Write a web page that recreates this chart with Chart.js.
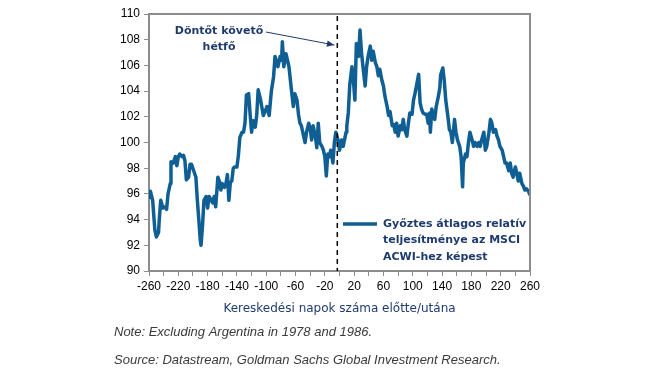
<!doctype html>
<html>
<head>
<meta charset="utf-8" />
<title>Győztes átlagos relatív teljesítménye</title>
<script src="https://cdn.jsdelivr.net/npm/chart.js@4.4.1/dist/chart.umd.min.js"></script>
<style>
	html, body { margin: 0; padding: 0; background: #fff; }
	#wrap { position: relative; width: 645px; height: 371px; }
</style>
</head>
<body>
<div id="wrap"><canvas id="chart" width="645" height="371"></canvas></div>
<script>
// kereskedési napok a döntő előtt/után
const days = [
	-260, -258, -255, -252, -250, -247, -246, -244, -241, -238, -236, -234, -231, -230, -227, -224,
	-222, -220, -218, -215, -213, -211, -209, -206, -204, -202, -199, -196, -194, -192, -190, -189,
	-187, -185, -182, -180, -178, -175, -173, -171, -169, -166, -164, -162, -160, -157, -155, -153,
	-151, -149, -147, -145, -143, -140, -138, -136, -133, -131, -129, -127, -124, -122, -120, -118,
	-115, -113, -111, -108, -104, -101, -99, -96, -93, -90, -88, -86, -84, -81, -79, -78,
	-76, -73, -71, -69, -66, -63, -61, -58, -56, -54, -52, -49, -47, -45, -42, -40,
	-38, -36, -33, -31, -29, -27, -24, -22, -20, -18, -16, -14, -12, -9, -7, -5,
	-2, 0, 3, 5, 9, 10, 12, 14, 17, 19, 21, 23, 26, 28, 30, 33,
	35, 37, 39, 42, 44, 46, 49, 51, 53, 55, 58, 60, 62, 65, 67, 69,
	72, 74, 76, 78, 80, 83, 85, 87, 89, 92, 94, 96, 99, 101, 103, 105,
	108, 110, 112, 114, 117, 119, 121, 123, 124, 126, 128, 130, 132, 135, 137, 138,
	141, 143, 145, 148, 150, 152, 154, 157, 159, 161, 164, 166, 168, 169, 172, 174,
	176, 178, 181, 183, 185, 188, 190, 192, 194, 197, 199, 201, 204, 206, 208, 210,
	213, 215, 217, 219, 222, 224, 226, 228, 231, 233, 235, 237, 240, 242, 244, 246,
	249, 251, 253, 255, 258, 260
];

// relatív teljesítmény az MSCI ACWI-hez képest
const relPerf = [
	95.6, 96.2, 95.5, 93.2, 92.65, 93.0, 94.0, 95.5, 94.9, 95.0, 94.8, 96.0, 96.8, 98.5, 98.4, 98.9,
	98.2, 98.9, 99.1, 98.9, 99.0, 98.6, 97.1, 97.3, 98.3, 98.3, 97.8, 97.3, 95.5, 94.0, 92.4, 92.0,
	93.5, 95.5, 95.8, 94.9, 95.8, 95.5, 95.3, 95.8, 95.0, 97.3, 97.0, 96.3, 96.8, 96.5, 96.8, 97.5,
	95.5, 96.9, 97.0, 98.0, 98.1, 98.1, 99.0, 100.4, 100.8, 100.8, 101.5, 103.7, 103.8, 102.2, 100.8, 101.7,
	101.2, 102.1, 104.1, 103.4, 102.1, 102.5, 102.8, 102.1, 104.0, 105.1, 106.7, 106.3, 105.9, 106.7, 106.4, 107.85,
	105.9, 106.9, 106.4, 105.9, 104.3, 102.8, 103.8, 103.3, 102.2, 101.5, 101.3, 100.5, 100.0, 100.8, 101.5, 101.1,
	100.2, 101.3, 100.5, 99.6, 101.5, 100.0, 99.7, 99.4, 98.9, 97.4, 99.1, 98.9, 99.4, 98.4, 100.0, 100.8,
	100.2, 99.4, 100.2, 99.7, 100.8, 101.3, 102.3, 104.5, 105.9, 104.8, 103.3, 107.7, 106.7, 108.75, 107.0, 105.4,
	104.4, 105.9, 106.7, 107.5, 106.4, 107.1, 106.2, 105.9, 105.2, 105.7, 104.8, 104.4, 103.6, 102.8, 102.1, 102.4,
	101.3, 101.4, 100.8, 101.5, 100.5, 101.3, 101.0, 101.8, 101.0, 100.5, 101.5, 102.3, 102.2, 103.3, 103.8, 104.4,
	105.3, 103.1, 102.6, 102.3, 102.2, 102.2, 101.5, 102.3, 100.8, 102.6, 102.1, 101.8, 102.8, 103.6, 104.3, 105.25,
	105.8, 104.8, 103.3, 102.0, 101.0, 100.8, 100.0, 101.8, 100.8, 100.2, 99.7, 98.9, 96.55, 98.4, 99.1, 98.9,
	100.0, 100.8, 100.2, 99.7, 100.0, 99.7, 100.0, 99.7, 100.2, 100.8, 99.4, 99.7, 100.8, 101.8, 101.5, 100.8,
	101.0, 100.5, 100.2, 99.7, 99.4, 98.9, 98.4, 98.4, 97.8, 98.4, 97.6, 97.3, 98.1, 97.6, 97.0, 97.6,
	96.8, 96.6, 96.3, 96.4, 96.2, 95.9
];

const eventDay = -3;
const seriesLabel = ["Győztes átlagos relatív", "teljesítménye az MSCI", "ACWI-hez képest"];
const calloutText = ["Döntőt követő", "hétfő"];
const xTitle = "Kereskedési napok száma előtte/utána";
const noteText = "Note: Excluding Argentina in 1978 and 1986.";
const sourceText = "Source: Datastream, Goldman Sachs Global Investment Research.";

const lineColor = "#0f5f95";
const navy = "#1f3b6e";
const frameGray = "#8c8c8c";

const points = days.map((d, i) => ({ x: d, y: relPerf[i] }));

const extras = {
	id: "extras",
	afterDatasetsDraw(chart) {
		const { ctx, chartArea: a, scales } = chart;
		ctx.save();

		// dashed event line
		const ex = scales.x.getPixelForValue(eventDay);
		ctx.strokeStyle = "#000";
		ctx.lineWidth = 1.5;
		ctx.setLineDash([5, 4]);
		ctx.beginPath();
		ctx.moveTo(ex, a.top + 2);
		ctx.lineTo(ex, a.bottom);
		ctx.stroke();
		ctx.setLineDash([]);

		// top / right frame
		ctx.strokeStyle = frameGray;
		ctx.lineWidth = 2;
		ctx.beginPath();
		ctx.moveTo(a.left, a.top);
		ctx.lineTo(a.right, a.top);
		ctx.lineTo(a.right, a.bottom);
		ctx.stroke();

		// callout
		ctx.fillStyle = navy;
		ctx.font = "bold 11px 'DejaVu Sans'";
		ctx.textAlign = "center";
		ctx.textBaseline = "middle";
		ctx.fillText(calloutText[0], 219, 31);
		ctx.fillText(calloutText[1], 219, 47);

		// arrow
		const ax0 = 266, ay0 = 32, ax1 = ex - 3, ay1 = 45;
		ctx.strokeStyle = navy;
		ctx.lineWidth = 1;
		ctx.beginPath();
		ctx.moveTo(ax0, ay0);
		ctx.lineTo(ax1, ay1);
		ctx.stroke();
		const ang = Math.atan2(ay1 - ay0, ax1 - ax0);
		ctx.beginPath();
		ctx.moveTo(ax1, ay1);
		ctx.lineTo(ax1 - 8 * Math.cos(ang - 0.4), ay1 - 8 * Math.sin(ang - 0.4));
		ctx.lineTo(ax1 - 8 * Math.cos(ang + 0.4), ay1 - 8 * Math.sin(ang + 0.4));
		ctx.closePath();
		ctx.fillStyle = navy;
		ctx.fill();

		// legend
		ctx.strokeStyle = lineColor;
		ctx.lineWidth = 3.5;
		ctx.beginPath();
		ctx.moveTo(343, 224);
		ctx.lineTo(377, 224);
		ctx.stroke();
		ctx.fillStyle = navy;
		ctx.font = "bold 11px 'DejaVu Sans'";
		ctx.textAlign = "left";
		seriesLabel.forEach((t, i) => ctx.fillText(t, 383, 224 + i * 16.5));

		// x axis title
		ctx.font = "12px 'DejaVu Sans'";
		ctx.textAlign = "center";
		ctx.fillText(xTitle, (a.left + a.right) / 2, 309);

		// notes
		ctx.fillStyle = "#3a3a3a";
		ctx.font = "italic 13px 'Liberation Sans'";
		ctx.textAlign = "left";
		ctx.fillText(noteText, 114, 332);
		ctx.fillText(sourceText, 114, 360);

		ctx.restore();
	}
};

new Chart(document.getElementById("chart"), {
	type: "line",
	data: {
		datasets: [{
			data: points,
			borderColor: lineColor,
			borderWidth: 3.5,
			borderJoinStyle: "round",
			pointRadius: 0,
			tension: 0,
			fill: false
		}]
	},
	options: {
		responsive: false,
		animation: false,
		layout: { padding: { left: 0, right: 115, top: 14, bottom: 0 } },
		plugins: { legend: { display: false }, tooltip: { enabled: false } },
		scales: {
			x: {
				type: "linear",
				min: -260,
				max: 260,
				afterFit: (s) => { s.height = 100; },
				ticks: {
					stepSize: 20,
					autoSkip: false,
					maxRotation: 0,
					padding: 3,
					color: "#000",
					font: { family: "'Liberation Sans'", size: 12 },
					callback: (v) => ((v + 260) % 40 === 0 ? String(v) : "")
				},
				grid: { drawOnChartArea: false, drawTicks: true, tickLength: 5, color: frameGray, lineWidth: 1 },
				border: { display: true, color: frameGray, width: 2 }
			},
			y: {
				min: 90,
				max: 110,
				afterFit: (s) => { s.width = 149; },
				ticks: {
					stepSize: 2,
					padding: 4,
					color: "#000",
					font: { family: "'Liberation Sans'", size: 12 }
				},
				grid: { drawOnChartArea: false, drawTicks: true, tickLength: 5, color: frameGray, lineWidth: 1 },
				border: { display: true, color: frameGray, width: 2 }
			}
		}
	},
	plugins: [extras]
});
</script>
</body>
</html>
